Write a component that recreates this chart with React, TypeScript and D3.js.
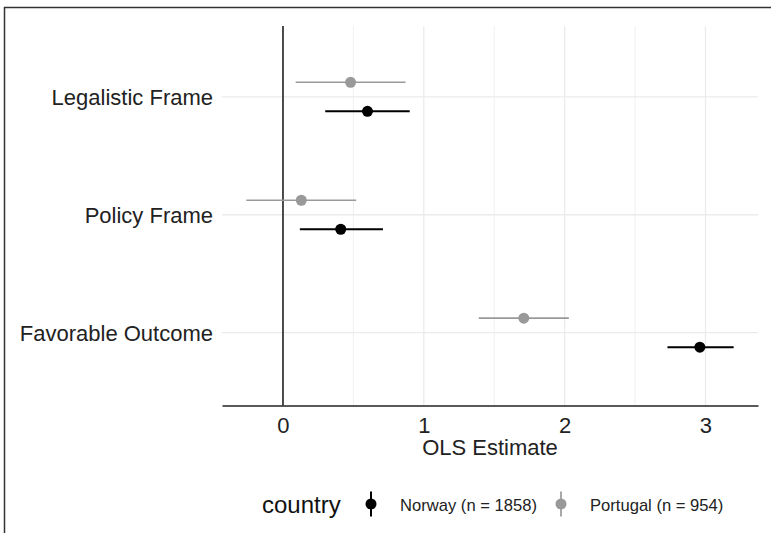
import { useEffect, useRef } from "react"
import {
  select,
  scaleLinear,
  scalePoint,
  axisBottom,
  axisLeft,
  min,
  max,
} from "d3"

// estimates
const categories = ["Legalistic Frame", "Policy Frame", "Favorable Outcome"]
const countries = ["Portugal", "Norway"]
const norwayEst = [0.6, 0.41, 2.96]
const norwayLo = [0.3, 0.12, 2.73]
const norwayHi = [0.9, 0.71, 3.2]
const portugalEst = [0.48, 0.13, 1.71]
const portugalLo = [0.09, -0.26, 1.39]
const portugalHi = [0.87, 0.52, 2.03]
const majorTicks = [0, 1, 2, 3]
const minorTicks = [0.5, 1.5, 2.5]
const legendLabels = ["Norway (n = 1858)", "Portugal (n = 954)"]

const W = 771
const H = 533
const FONT = "'Liberation Sans', Arial, Helvetica, sans-serif"
const colors: Record<string, string> = { Norway: "#000000", Portugal: "#999999" }

const App = () => {
  const svgRef = useRef<SVGSVGElement>(null)

  useEffect(() => {
    const rows = [
      ...categories.map((c, i) => ({ cat: c, country: "Portugal", est: portugalEst[i], lo: portugalLo[i], hi: portugalHi[i] })),
      ...categories.map((c, i) => ({ cat: c, country: "Norway", est: norwayEst[i], lo: norwayLo[i], hi: norwayHi[i] })),
    ]
    const panel = { left: 222, right: 758, top: 26, bottom: 405.5 }

    // ggplot-ish 5% expansion
    const lo = min(rows, (d) => d.lo) as number
    const hi = max(rows, (d) => d.hi) as number
    const pad = (hi - lo) * 0.05
    const x = scaleLinear().domain([lo - pad, hi + pad]).range([panel.left, panel.right])

    const y = scalePoint<string>().domain(categories).range([panel.top, panel.bottom - 2]).padding(0.6)
    const step = y.step()
    const dodge = scalePoint<string>().domain(countries).range([-step * 0.123, step * 0.123])

    const svgEl = select(svgRef.current)
    svgEl.selectAll("*").remove()
    const svg = svgEl.append("g")

    svg.append("rect").attr("width", W).attr("height", H).attr("fill", "#fff")

    // frame of the screenshot
    svg.append("line").attr("x1", 4).attr("x2", W).attr("y1", 7.5).attr("y2", 7.5)
      .attr("stroke", "#333").attr("stroke-width", 1.5)
    svg.append("line").attr("x1", 4.5).attr("x2", 4.5).attr("y1", 7).attr("y2", H)
      .attr("stroke", "#333").attr("stroke-width", 1.5)

    // grid
    svg.selectAll(".minor").data(minorTicks).enter().append("line")
      .attr("x1", (d) => x(d)).attr("x2", (d) => x(d))
      .attr("y1", panel.top).attr("y2", panel.bottom)
      .attr("stroke", "#f0f0f0").attr("stroke-width", 1)
    svg.selectAll(".major").data(majorTicks).enter().append("line")
      .attr("x1", (d) => x(d)).attr("x2", (d) => x(d))
      .attr("y1", panel.top).attr("y2", panel.bottom)
      .attr("stroke", "#ebebeb").attr("stroke-width", 1.3)
    svg.selectAll(".hgrid").data(categories).enter().append("line")
      .attr("x1", panel.left).attr("x2", panel.right)
      .attr("y1", (d) => y(d)!).attr("y2", (d) => y(d)!)
      .attr("stroke", "#ebebeb").attr("stroke-width", 1.3)

    // vertical reference line at 0
    svg.append("line").attr("x1", x(0)).attr("x2", x(0))
      .attr("y1", panel.top).attr("y2", panel.bottom)
      .attr("stroke", "#222").attr("stroke-width", 1.6)

    // x axis
    const xAxis = axisBottom(x).tickValues(majorTicks).tickFormat((d) => String(d)).tickSize(0).tickPadding(0)
    const xg = svg.append("g").attr("transform", `translate(0, ${panel.bottom})`).call(xAxis)
    xg.select(".domain").attr("stroke", "#222").attr("stroke-width", 1.6)
    xg.selectAll("text").attr("y", 27.5).attr("dy", null)
      .attr("font-size", 22).attr("font-family", FONT).attr("fill", "#222")

    // y axis
    const yAxis = axisLeft(y).tickSize(0).tickPadding(9)
    const yg = svg.append("g").attr("transform", `translate(${panel.left}, 0)`).call(yAxis)
    yg.select(".domain").remove()
    yg.selectAll("text").attr("dy", "0.36em")
      .attr("font-size", 22).attr("font-family", FONT).attr("fill", "#222")

    svg.append("text").attr("x", (panel.left + panel.right) / 2).attr("y", 455)
      .attr("text-anchor", "middle").attr("font-size", 22).attr("font-family", FONT).attr("fill", "#222")
      .text("OLS Estimate")

    // error bars and points
    const yPos = (d: any) => y(d.cat)! + dodge(d.country)!
    svg.selectAll(".bar").data(rows).enter().append("line")
      .attr("x1", (d) => x(d.lo)).attr("x2", (d) => x(d.hi))
      .attr("y1", yPos).attr("y2", yPos)
      .attr("stroke", (d) => colors[d.country])
      .attr("stroke-width", (d) => (d.country === "Norway" ? 2 : 1.7))
    svg.selectAll(".pt").data(rows).enter().append("circle")
      .attr("cx", (d) => x(d.est)).attr("cy", yPos).attr("r", 5.5)
      .attr("fill", (d) => colors[d.country])

    // legend
    svg.append("text").attr("x", 262).attr("y", 513)
      .attr("font-size", 24).attr("font-family", FONT).attr("fill", "#111")
      .text("country")
    const legendCountries = ["Norway", "Portugal"]
    const keyX = [371, 561]
    legendCountries.forEach((c, i) => {
      svg.append("line").attr("x1", keyX[i]).attr("x2", keyX[i]).attr("y1", 491.5).attr("y2", 516.5)
        .attr("stroke", colors[c]).attr("stroke-width", c === "Norway" ? 2 : 1.7)
      svg.append("circle").attr("cx", keyX[i]).attr("cy", 504).attr("r", 5.5).attr("fill", colors[c])
      svg.append("text").attr("x", keyX[i] + 29).attr("y", 510.5)
        .attr("font-size", 16.6).attr("font-family", FONT).attr("fill", "#222")
        .text(legendLabels[i])
    })
  }, [])

  return (
    <div style={{ position: "absolute", left: 0, top: 0 }}>
      <svg ref={svgRef} width={W} height={H} viewBox={`0 0 ${W} ${H}`} style={{ display: "block" }} />
    </div>
  )
}

export default App
